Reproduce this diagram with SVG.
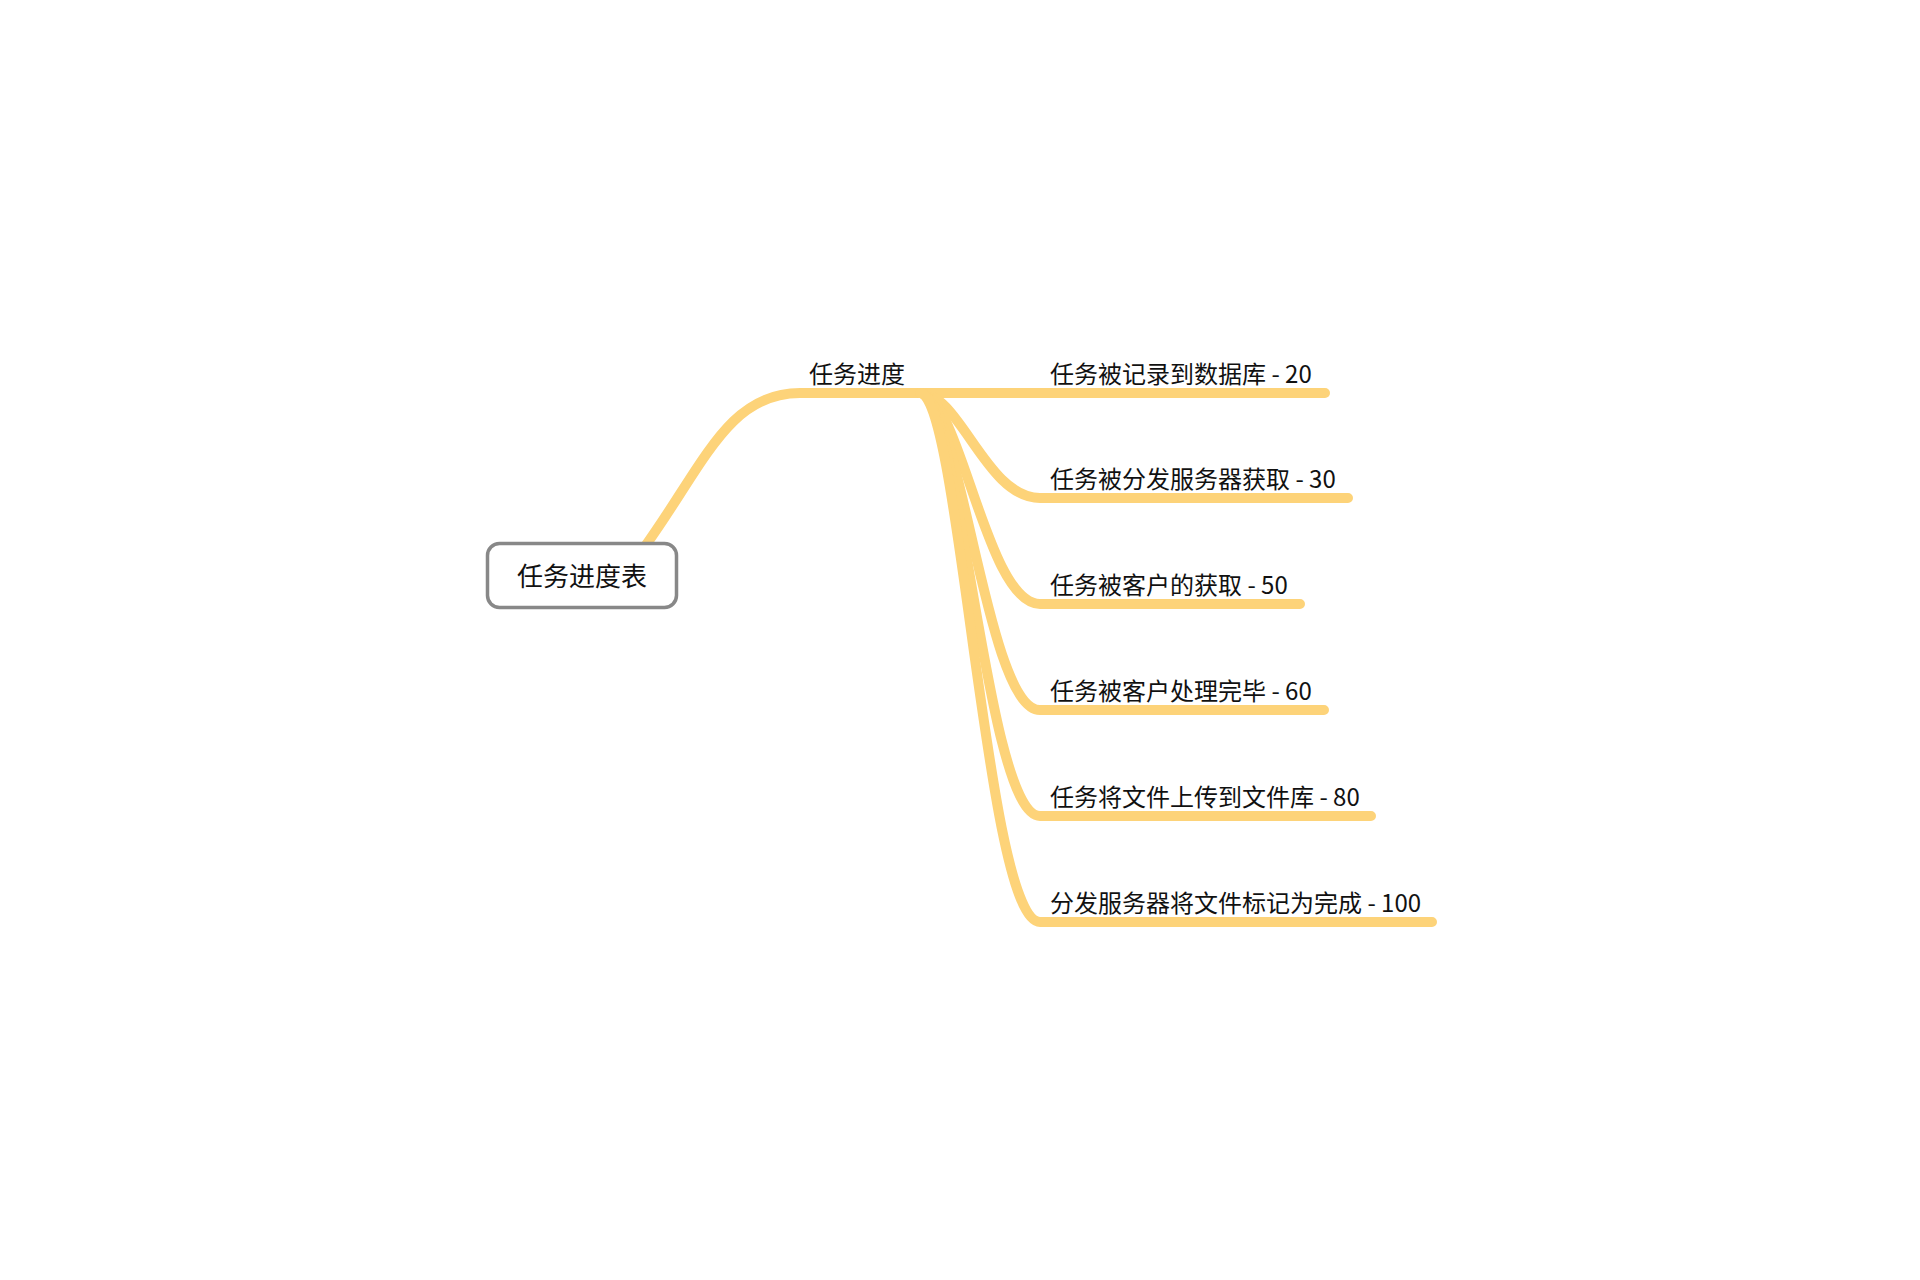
<svg xmlns="http://www.w3.org/2000/svg" width="1920" height="1280" viewBox="0 0 1920 1280">
<style>
.c{fill:none;stroke:#FDD379;stroke-width:10;stroke-linecap:round;stroke-linejoin:round}
.t{font-family:"Noto Sans CJK SC","Noto Sans",sans-serif;fill:#111}
.s{font-size:24px}
</style>
<rect width="1920" height="1280" fill="#fff"/>
<g id="connectors">
<path class="c" d="M620 580 C700 480 720 393 800 393 L920 393"/>
<path class="c" d="M920 393 L1325 393"/>
<path class="c" d="M920 393 C960 393 986 498 1040 498 L1348 498"/>
<path class="c" d="M920 393 C960 393 986 604 1040 604 L1300 604"/>
<path class="c" d="M920 393 C960 393 986 710 1040 710 L1324 710"/>
<path class="c" d="M920 393 C960 393 986 816 1040 816 L1371 816"/>
<path class="c" d="M920 393 C960 393 986 922 1040 922 L1432 922"/>
</g>
<g id="root">
<rect x="487.5" y="543.5" width="189" height="64" rx="12" fill="#fff" stroke="#888" stroke-width="3.5"/>
<text class="t" x="582" y="586" font-size="26" text-anchor="middle">任务进度表</text>
</g>
<g id="main"><text class="t" x="809" y="383" font-size="24">任务进度</text></g>
<g id="n1"><text class="t s" x="1050" y="383">任务被记录到数据库 - 20</text></g>
<g id="n2"><text class="t s" x="1050" y="488">任务被分发服务器获取 - 30</text></g>
<g id="n3"><text class="t s" x="1050" y="594">任务被客户的获取 - 50</text></g>
<g id="n4"><text class="t s" x="1050" y="700">任务被客户处理完毕 - 60</text></g>
<g id="n5"><text class="t s" x="1050" y="806">任务将文件上传到文件库 - 80</text></g>
<g id="n6"><text class="t s" x="1050" y="912">分发服务器将文件标记为完成 - 100</text></g>
</svg>
